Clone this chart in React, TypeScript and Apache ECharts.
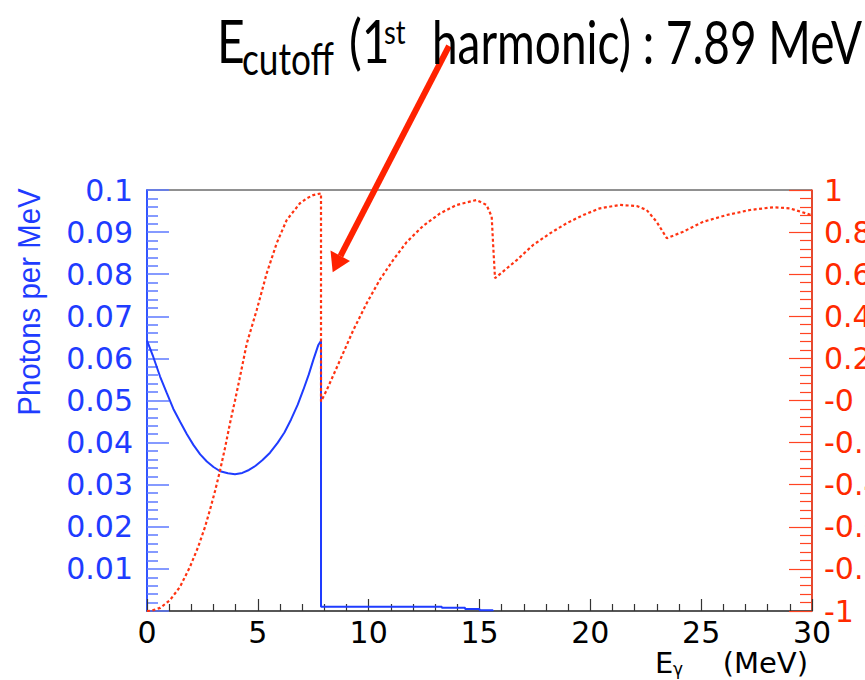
import React, { useEffect, useRef } from "react";
import * as echarts from "echarts";

// Blue histogram: photons per MeV vs E_gamma (MeV)
const energyBlue = [0, 0.28, 0.59, 0.89, 1.19, 1.5, 1.8, 2.1, 2.4, 2.7, 3.0, 3.3, 3.65, 3.97, 4.3, 4.6, 4.9, 5.2, 5.55, 5.9, 6.2, 6.5, 6.8, 7.05, 7.3, 7.5, 7.73, 7.85, 7.85, 13.3, 13.3, 14.35, 14.35, 15.0, 15.0, 15.6, 15.6];
const photonsPerMeV = [0.0642, 0.0604, 0.0557, 0.0518, 0.048, 0.0449, 0.042, 0.0394, 0.0372, 0.0355, 0.0342, 0.0332, 0.0327, 0.0325, 0.0328, 0.0335, 0.0345, 0.0358, 0.0376, 0.04, 0.0424, 0.0455, 0.049, 0.0525, 0.0562, 0.0596, 0.0632, 0.0642, 0.001, 0.001, 0.0008, 0.0008, 0.0005, 0.0005, 0.0002, 0.0002, 0];

// Red dotted curve (right axis, -1 .. 1)
const energyRed = [0, 0.21, 0.6, 1.04, 1.49, 1.94, 2.31, 2.62, 2.84, 3.07, 3.29, 3.52, 3.74, 3.97, 4.19, 4.5, 4.95, 5.4, 5.85, 6.3, 6.9, 7.2, 7.5, 7.85, 7.85, 8.11, 8.71, 9.31, 9.91, 10.51, 11.11, 11.71, 12.46, 13.22, 13.97, 14.72, 14.87, 15.32, 15.55, 15.62, 15.7, 16.68, 17.42, 18.18, 18.93, 19.68, 20.43, 21.33, 22.09, 22.54, 22.99, 23.45, 24.19, 25.09, 26.15, 27.2, 28.25, 29.0, 30];
const redValues = [-1, -0.998, -0.985, -0.948, -0.885, -0.79, -0.695, -0.6, -0.52, -0.43, -0.335, -0.225, -0.11, 0.0, 0.11, 0.27, 0.43, 0.604, 0.747, 0.857, 0.937, 0.96, 0.976, 0.984, -0.005, 0.05, 0.192, 0.335, 0.462, 0.575, 0.668, 0.752, 0.83, 0.889, 0.929, 0.949, 0.952, 0.929, 0.873, 0.731, 0.581, 0.667, 0.739, 0.794, 0.842, 0.881, 0.913, 0.929, 0.924, 0.905, 0.849, 0.771, 0.802, 0.849, 0.881, 0.905, 0.918, 0.913, 0.88];

const xRange = [0, 30];
const leftRange = [0, 0.1];
const rightRange = [-1, 1];

const BLUE = "#1f3cff";
const RED = "#ff3311";

export default function App() {
  const ref = useRef<HTMLDivElement>(null);
  useEffect(() => {
    if (!ref.current) return;
    const chart = echarts.init(ref.current, undefined, { renderer: "svg" });
    const tickFont = "DejaVu Sans";
    const titleFont = "Lato";
    const option: any = {
      animation: false,
      backgroundColor: "#ffffff",
      grid: {
        left: 147,
        top: 190,
        width: 665,
        height: 421,
        show: true,
        borderColor: "#222",
        borderWidth: 1,
        backgroundColor: "transparent",
        containLabel: false,
        outerBoundsMode: "none",
      },
      xAxis: {
        type: "value",
        min: xRange[0],
        max: xRange[1],
        interval: 5,
        axisLine: { show: true, lineStyle: { color: "#444", width: 1.5 } },
        axisTick: { show: true, inside: true, length: 12, lineStyle: { color: "#333", width: 1.2 } },
        minorTick: { show: true, splitNumber: 5, length: 7, lineStyle: { color: "#333", width: 1.2 } },
        splitLine: { show: false },
        axisLabel: { fontFamily: tickFont, fontSize: 30, color: "#000", margin: 6 },
      },
      yAxis: [
        {
          type: "value",
          position: "left",
          min: leftRange[0],
          max: leftRange[1],
          interval: 0.01,
          axisLine: { show: true, lineStyle: { color: "#3355ff", width: 2 } },
          axisTick: { show: true, inside: true, length: 22, lineStyle: { color: "#5c78ff", width: 1.5 } },
          minorTick: { show: true, splitNumber: 5, length: 11, lineStyle: { color: "#5c78ff", width: 1.5 } },
          splitLine: { show: false },
          axisLabel: {
            fontFamily: tickFont,
            fontSize: 30,
            color: BLUE,
            margin: 14,
            formatter: (v: number) => (Math.abs(v) < 1e-9 ? "" : String(Math.round(v * 100) / 100)),
          },
        },
        {
          type: "value",
          position: "right",
          min: rightRange[0],
          max: rightRange[1],
          interval: 0.2,
          axisLine: { show: true, lineStyle: { color: RED, width: 1.5 } },
          axisTick: { show: true, inside: true, length: 23, lineStyle: { color: "#ff4422", width: 1.2 } },
          minorTick: { show: true, splitNumber: 5, length: 12, lineStyle: { color: "#ff4422", width: 1.2 } },
          splitLine: { show: false },
          axisLabel: {
            fontFamily: tickFont,
            fontSize: 30,
            color: "#ff2a00",
            margin: 12,
            formatter: (v: number) => {
              const r = Math.round(v * 10) / 10;
              return r === 0 ? "-0" : String(r);
            },
          },
        },
      ],
      series: [
        {
          type: "line",
          yAxisIndex: 0,
          showSymbol: false,
          data: energyBlue.map((e, i) => [e, photonsPerMeV[i]]),
          lineStyle: { color: BLUE, width: 2 },
          z: 3,
        },
        {
          type: "line",
          yAxisIndex: 1,
          showSymbol: false,
          data: energyRed.map((e, i) => [e, redValues[i]]),
          lineStyle: { color: RED, width: 2.2, type: [3, 2.5] },
          z: 4,
        },
      ],
      graphic: [
        // arrow
        {
          type: "line",
          shape: { x1: 449, y1: 46, x2: 340.5, y2: 256 },
          style: { stroke: "#ff2200", lineWidth: 6 },
          z: 10,
        },
        {
          type: "polygon",
          shape: { points: [[332.7, 272.3], [330.5, 250.5], [350, 261]] },
          style: { fill: "#ff2200" },
          z: 10,
        },
        // title
        {
          type: "text", x: 217, y: 40, scaleX: 0.8, z: 20,
          style: { text: "E", fontFamily: titleFont, fontSize: 60, fill: "#000", align: "left", verticalAlign: "middle" },
        },
        {
          type: "text", x: 242, y: 58, scaleX: 0.8, z: 20,
          style: { text: "cutoff", fontFamily: titleFont, fontSize: 44, fill: "#000", align: "left", verticalAlign: "middle" },
        },
        {
          type: "text", x: 349, y: 40, scaleX: 0.8, z: 20,
          style: { text: "(1", fontFamily: titleFont, fontSize: 60, fill: "#000", align: "left", verticalAlign: "middle" },
        },
        {
          type: "text", x: 384, y: 32, scaleX: 0.85, z: 20,
          style: { text: "st", fontFamily: titleFont, fontSize: 32, fill: "#000", align: "left", verticalAlign: "middle" },
        },
        {
          type: "text", x: 432, y: 40, scaleX: 0.765, z: 20,
          style: { text: "harmonic) : 7.89 MeV", fontFamily: titleFont, fontSize: 60, fill: "#000", align: "left", verticalAlign: "middle" },
        },
        // y axis title
        {
          type: "text", x: 29, y: 302, rotation: Math.PI / 2, scaleX: 0.95, z: 20,
          style: { text: "Photons per MeV", fontFamily: "Liberation Sans", fontSize: 31, fill: BLUE, align: "center", verticalAlign: "middle" },
        },
        // x axis title
        {
          type: "text", x: 655, y: 663, z: 20,
          style: { text: "E", fontFamily: tickFont, fontSize: 29, fill: "#000", align: "left", verticalAlign: "middle" },
        },
        {
          type: "text", x: 673, y: 669, z: 20,
          style: { text: "γ", fontFamily: tickFont, fontSize: 17, fill: "#000", align: "left", verticalAlign: "middle" },
        },
        {
          type: "text", x: 808, y: 663, z: 20,
          style: { text: "(MeV)", fontFamily: tickFont, fontSize: 29, fill: "#000", align: "right", verticalAlign: "middle" },
        },
      ],
    };
    chart.setOption(option);
    return () => chart.dispose();
  }, []);
  return (
    <div
      ref={ref}
      style={{ position: "absolute", left: 0, top: 0, width: 865, height: 680, background: "#fff" }}
    />
  );
}
